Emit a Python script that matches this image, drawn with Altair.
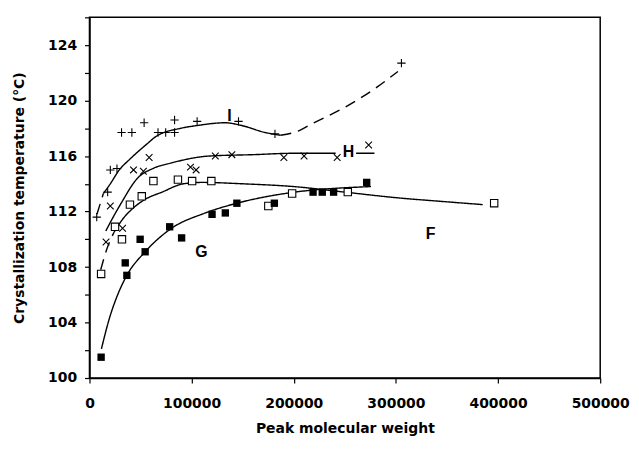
import altair as alt
import pandas as pd

# ---------------- data ----------------
I_x = [7100, 17800, 20400, 26900, 31400, 41500, 53500, 67100, 74600, 83300, 83300, 105400, 145900, 181600, 305400]
I_y = [111.6, 113.4, 115.0, 115.1, 117.7, 117.7, 118.4, 117.7, 117.7, 117.7, 118.6, 118.5, 118.5, 117.6, 122.7]

H_x = [16200, 20400, 32400, 43100, 52800, 58400, 98900, 104400, 123200, 139400, 190300, 210100, 242500, 273300]
H_y = [109.8, 112.4, 110.8, 115.0, 114.9, 115.9, 115.2, 115.0, 116.0, 116.1, 115.9, 116.0, 115.9, 116.8]

F_x = [11400, 25000, 31800, 39600, 51200, 62600, 86600, 100500, 119300, 175100, 198400, 252900, 396200]
F_y = [107.5, 110.9, 110.0, 112.5, 113.1, 114.2, 114.3, 114.2, 114.2, 112.4, 113.3, 113.4, 112.6]

G_x = [11400, 35000, 36600, 49600, 54500, 78500, 90200, 120000, 133000, 144300, 181000, 218900, 227900, 239000, 271400]
G_y = [101.5, 108.3, 107.4, 110.0, 109.1, 110.9, 110.1, 111.8, 111.9, 112.6, 112.6, 113.4, 113.4, 113.4, 114.1]

# fitted curves, split into solid / dashed parts
I_start_x = [7300, 13600]
I_start_y = [111.8, 113.3]
I_mid_x = [13600, 19500, 29200, 39900, 56700, 64900, 89200, 105400, 133000, 149100, 171900, 187000]
I_mid_y = [113.3, 113.9, 115.0, 115.8, 116.9, 117.4, 118.0, 118.2, 118.4, 118.2, 117.7, 117.5]
I_end_x = [187000, 204300, 217200, 249700, 282100, 302000]
I_end_y = [117.5, 117.8, 118.3, 119.5, 121.0, 122.1]

H_a_x = [16000, 21000, 31000, 47000, 62000, 80000, 117000, 160000, 200000, 241000]
H_a_y = [110.6, 111.3, 112.6, 114.4, 115.1, 115.5, 116.0, 116.1, 116.2, 116.2]
H_b_x = [261000, 279000]
H_b_y = [116.2, 116.2]

F_start_x = [11000, 17000, 24000]
F_start_y = [107.8, 109.3, 110.5]
F_main_x = [24000, 33000, 42000, 55000, 71000, 92000, 110000, 150000, 200000, 250000, 300000, 350000, 385000]
F_main_y = [110.5, 111.5, 112.2, 112.9, 113.4, 114.0, 114.1, 114.0, 113.8, 113.4, 113.0, 112.7, 112.5]

G_curve_x = [11700, 19500, 27600, 36600, 54500, 78500, 113500, 144300, 175100, 201100, 275600]
G_curve_y = [102.1, 104.3, 106.0, 107.4, 109.1, 110.7, 111.9, 112.6, 113.1, 113.4, 113.8]

label_text = ["I", "H", "F", "G"]
label_x = [137000, 253500, 334000, 109600]
label_y = [118.9, 116.3, 110.4, 109.1]

x_ticks = [0, 100000, 200000, 300000, 400000, 500000]
y_ticks = list(range(100, 127, 2))

# ---------------- tables ----------------
def pts(name, xs, ys):
    return pd.DataFrame({"series": name, "x": xs, "y": ys})

def seg(name, style, xs, ys):
    return pd.DataFrame({"seg": name, "style": style, "x": xs, "y": ys, "o": range(len(xs))})

curves = pd.concat([
    seg("I1", "dashed", I_start_x, I_start_y),
    seg("I2", "solid", I_mid_x, I_mid_y),
    seg("I3", "dashed", I_end_x, I_end_y),
    seg("H1", "solid", H_a_x, H_a_y),
    seg("H2", "solid", H_b_x, H_b_y),
    seg("F1", "dashed", F_start_x, F_start_y),
    seg("F2", "solid", F_main_x, F_main_y),
    seg("G1", "solid", G_curve_x, G_curve_y),
], ignore_index=True)

labels = pd.DataFrame({"t": label_text, "x": label_x, "y": label_y})

AFONT = "DejaVu Sans"
FONT = "Liberation Sans"

xs = alt.X("x:Q", scale=alt.Scale(domain=[0, 500000], nice=False),
           axis=alt.Axis(values=x_ticks, format="d", grid=False, title="Peak molecular weight",
                         labelFont=AFONT, labelFontWeight="bold", labelFontSize=14, labelColor="black",
                         labelPadding=14, tickSize=5, tickColor="black", domainColor="black",
                         domainWidth=1.5, tickWidth=1.2,
                         titleFont=AFONT, titleFontWeight="bold", titleFontSize=14, titleColor="black",
                         titlePadding=11, labelFlush=False))
ys = alt.Y("y:Q", scale=alt.Scale(domain=[100, 126], nice=False),
           axis=alt.Axis(values=y_ticks, grid=False, title="Crystallization temperature (°C)",
                         labelExpr="datum.value % 4 == 0 ? datum.label : ''",
                         labelFont=AFONT, labelFontWeight="bold", labelFontSize=14, labelColor="black",
                         labelPadding=8, tickSize=5, tickColor="black", domainColor="black",
                         domainWidth=1.5, tickWidth=1.2,
                         titleFont=AFONT, titleFontWeight="bold", titleFontSize=14, titleColor="black",
                         titlePadding=21))

lines = alt.Chart(curves).mark_line(color="black", strokeWidth=1.4, interpolate="monotone").encode(
    x=xs, y=ys, detail="seg:N", order="o:Q",
    strokeDash=alt.StrokeDash("style:N", scale=alt.Scale(domain=["solid", "dashed"], range=[[1, 0], [11, 7]]),
                              legend=None),
)

plus_path = "M-1,0L1,0M0,-1L0,1"
x_path = "M-1,-1L1,1M-1,1L1,-1"

p_I = alt.Chart(pts("I", I_x, I_y)).mark_point(shape=plus_path, size=70, color="black", strokeWidth=1.1,
                                               filled=False, opacity=1).encode(x=xs, y=ys)
p_H = alt.Chart(pts("H", H_x, H_y)).mark_point(shape=x_path, size=45, color="black", strokeWidth=1.1,
                                               filled=False, opacity=1).encode(x=xs, y=ys)
p_F = alt.Chart(pts("F", F_x, F_y)).mark_point(shape="square", size=55, stroke="black", fill="white",
                                               strokeWidth=1.1, filled=True, opacity=1).encode(x=xs, y=ys)
p_G = alt.Chart(pts("G", G_x, G_y)).mark_point(shape="square", size=55, color="black", filled=True,
                                               opacity=1).encode(x=xs, y=ys)

txt = alt.Chart(labels).mark_text(font=FONT, fontWeight="bold", fontSize=16, color="black").encode(
    x=xs, y=ys, text="t:N")

chart = alt.layer(lines, p_I, p_H, p_F, p_G, txt).properties(
    width=514, height=363,
    autosize=alt.AutoSizeParams(type="none"),
    padding={"left": 82, "top": 8, "right": 31, "bottom": 62},
    background="white",
).configure_view(stroke="black", strokeWidth=1.5)

chart.save("out.html", embed_options={"renderer": "svg", "actions": False})
